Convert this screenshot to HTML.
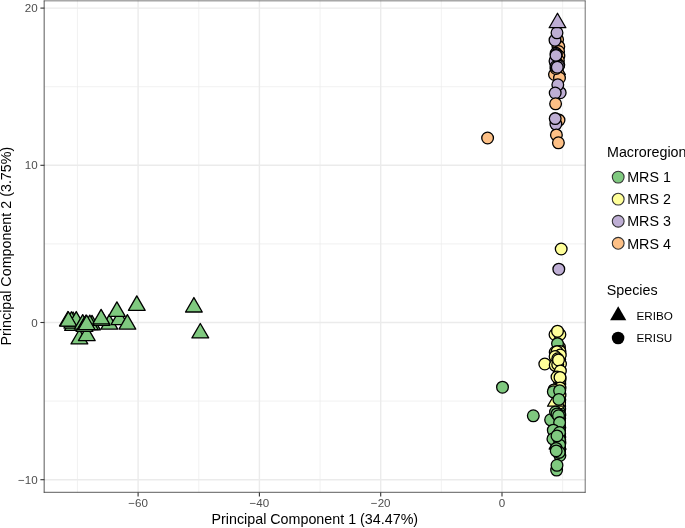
<!DOCTYPE html>
<html><head><meta charset="utf-8"><title>PCA</title>
<style>html,body{margin:0;padding:0;background:#fff}body{width:685px;height:528px;overflow:hidden}svg{display:block;will-change:transform}text{font-family:"Liberation Sans",sans-serif}</style>
</head><body>
<svg width="685" height="528" viewBox="0 0 685 528">
<rect x="0" y="0" width="685" height="528" fill="#fff"/>
<g stroke="#EBEBEB" stroke-width="0.7" fill="none">
<path d="M77.45 0.4V492.4"/>
<path d="M198.75 0.4V492.4"/>
<path d="M320.05 0.4V492.4"/>
<path d="M441.35 0.4V492.4"/>
<path d="M562.65 0.4V492.4"/>
<path d="M44.4 401.10H585.5"/>
<path d="M44.4 243.90H585.5"/>
<path d="M44.4 86.70H585.5"/>
</g>
<g stroke="#EBEBEB" stroke-width="1.4" fill="none">
<path d="M138.10 0.4V492.4"/>
<path d="M259.40 0.4V492.4"/>
<path d="M380.70 0.4V492.4"/>
<path d="M502.00 0.4V492.4"/>
<path d="M44.4 479.70H585.5"/>
<path d="M44.4 322.50H585.5"/>
<path d="M44.4 165.30H585.5"/>
<path d="M44.4 8.10H585.5"/>
</g>
<g stroke="#000" stroke-width="1.3" stroke-linejoin="round">
<path d="M73.00 315.85L81.36 330.32L64.64 330.32Z" fill="#7FC97F"/>
<path d="M72.30 313.65L80.66 328.12L63.94 328.12Z" fill="#7FC97F"/>
<path d="M73.10 311.95L81.46 326.43L64.74 326.43Z" fill="#7FC97F"/>
<path d="M71.40 311.75L79.76 326.22L63.04 326.22Z" fill="#7FC97F"/>
<path d="M76.25 311.55L84.61 326.02L67.89 326.02Z" fill="#7FC97F"/>
<path d="M67.90 311.45L76.26 325.93L59.54 325.93Z" fill="#7FC97F"/>
<path d="M68.40 311.75L76.76 326.22L60.04 326.22Z" fill="#7FC97F"/>
<path d="M79.40 329.45L87.76 343.93L71.04 343.93Z" fill="#7FC97F"/>
<path d="M86.80 326.15L95.16 340.62L78.44 340.62Z" fill="#7FC97F"/>
<path d="M92.00 315.35L100.36 329.82L83.64 329.82Z" fill="#7FC97F"/>
<path d="M89.80 315.15L98.16 329.62L81.44 329.62Z" fill="#7FC97F"/>
<path d="M82.70 314.65L91.06 329.12L74.34 329.12Z" fill="#7FC97F"/>
<path d="M84.50 316.95L92.86 331.43L76.14 331.43Z" fill="#7FC97F"/>
<path d="M86.00 314.95L94.36 329.43L77.64 329.43Z" fill="#7FC97F"/>
<path d="M86.70 315.25L95.06 329.72L78.34 329.72Z" fill="#7FC97F"/>
<path d="M109.30 314.65L117.66 329.12L100.94 329.12Z" fill="#7FC97F"/>
<path d="M101.50 310.85L109.86 325.32L93.14 325.32Z" fill="#7FC97F"/>
<path d="M119.40 310.15L127.76 324.62L111.04 324.62Z" fill="#7FC97F"/>
<path d="M101.10 309.35L109.46 323.82L92.74 323.82Z" fill="#7FC97F"/>
<path d="M116.90 301.85L125.26 316.32L108.54 316.32Z" fill="#7FC97F"/>
<path d="M127.40 314.65L135.76 329.12L119.04 329.12Z" fill="#7FC97F"/>
<path d="M136.80 295.85L145.16 310.32L128.44 310.32Z" fill="#7FC97F"/>
<path d="M193.90 297.55L202.26 312.02L185.54 312.02Z" fill="#7FC97F"/>
<path d="M200.30 323.45L208.66 337.93L191.94 337.93Z" fill="#7FC97F"/>
<circle cx="487.6" cy="138.0" r="5.85" fill="#FDC086"/>
<circle cx="557.6" cy="39.6" r="5.85" fill="#FDC086"/>
<circle cx="557.9" cy="46.2" r="5.85" fill="#FDC086"/>
<circle cx="558.8" cy="46.6" r="5.85" fill="#FDC086"/>
<circle cx="558.6" cy="51.5" r="5.85" fill="#FDC086"/>
<circle cx="558.9" cy="56.0" r="5.85" fill="#FDC086"/>
<circle cx="558.4" cy="60.5" r="5.85" fill="#FDC086"/>
<circle cx="558.8" cy="64.8" r="5.85" fill="#FDC086"/>
<circle cx="555.6" cy="63.0" r="5.85" fill="#BEAED4"/>
<circle cx="555.0" cy="60.9" r="5.85" fill="#BEAED4"/>
<circle cx="556.1" cy="53.3" r="5.85" fill="#BEAED4"/>
<circle cx="556.3" cy="54.6" r="5.85" fill="#BEAED4"/>
<circle cx="555.0" cy="40.2" r="5.85" fill="#BEAED4"/>
<circle cx="557.0" cy="32.8" r="5.85" fill="#BEAED4"/>
<path d="M557.50 13.25L565.86 27.72L549.14 27.72Z" fill="#BEAED4"/>
<path d="M557.00 60.15L565.36 74.62L548.64 74.62Z" fill="#FDC086"/>
<circle cx="554.5" cy="74.5" r="5.85" fill="#FDC086"/>
<circle cx="559.5" cy="78.0" r="5.85" fill="#FDC086"/>
<circle cx="556.0" cy="68.5" r="5.85" fill="#FDC086"/>
<circle cx="558.5" cy="66.0" r="5.85" fill="#BEAED4"/>
<circle cx="556.0" cy="66.5" r="5.85" fill="#BEAED4"/>
<circle cx="556.0" cy="55.4" r="5.85" fill="#BEAED4"/>
<circle cx="557.3" cy="67.2" r="5.85" fill="#BEAED4"/>
<circle cx="560.2" cy="92.7" r="5.85" fill="#BEAED4"/>
<circle cx="557.8" cy="84.8" r="5.85" fill="#BEAED4"/>
<circle cx="555.2" cy="93.0" r="5.85" fill="#BEAED4"/>
<circle cx="555.6" cy="103.8" r="5.85" fill="#FDC086"/>
<circle cx="559.0" cy="120.1" r="5.85" fill="#FDC086"/>
<circle cx="555.9" cy="124.1" r="5.85" fill="#BEAED4"/>
<circle cx="555.2" cy="118.6" r="5.85" fill="#BEAED4"/>
<circle cx="556.4" cy="134.9" r="5.85" fill="#FDC086"/>
<circle cx="558.4" cy="142.8" r="5.85" fill="#FDC086"/>
<circle cx="561.2" cy="249.0" r="5.85" fill="#FFFF99"/>
<circle cx="558.8" cy="269.2" r="5.85" fill="#BEAED4"/>
<circle cx="559.4" cy="347.0" r="5.85" fill="#FFFF99"/>
<circle cx="559.6" cy="350.1" r="5.85" fill="#FFFF99"/>
<circle cx="559.5" cy="353.2" r="5.85" fill="#FFFF99"/>
<circle cx="559.7" cy="356.3" r="5.85" fill="#FFFF99"/>
<circle cx="559.7" cy="359.4" r="5.85" fill="#FFFF99"/>
<circle cx="559.3" cy="362.5" r="5.85" fill="#FFFF99"/>
<circle cx="559.3" cy="365.6" r="5.85" fill="#FFFF99"/>
<circle cx="559.8" cy="368.7" r="5.85" fill="#FFFF99"/>
<circle cx="559.5" cy="371.8" r="5.85" fill="#FFFF99"/>
<circle cx="559.4" cy="374.9" r="5.85" fill="#FFFF99"/>
<circle cx="559.9" cy="378.0" r="5.85" fill="#FFFF99"/>
<circle cx="559.6" cy="381.1" r="5.85" fill="#FFFF99"/>
<circle cx="559.8" cy="384.2" r="5.85" fill="#FFFF99"/>
<circle cx="559.6" cy="387.3" r="5.85" fill="#7FC97F"/>
<circle cx="559.7" cy="390.4" r="5.85" fill="#7FC97F"/>
<circle cx="559.4" cy="393.5" r="5.85" fill="#7FC97F"/>
<circle cx="559.7" cy="396.6" r="5.85" fill="#7FC97F"/>
<circle cx="559.8" cy="399.7" r="5.85" fill="#7FC97F"/>
<circle cx="559.6" cy="402.8" r="5.85" fill="#7FC97F"/>
<circle cx="559.7" cy="405.9" r="5.85" fill="#7FC97F"/>
<circle cx="559.7" cy="409.0" r="5.85" fill="#7FC97F"/>
<circle cx="559.3" cy="412.1" r="5.85" fill="#7FC97F"/>
<circle cx="559.8" cy="415.2" r="5.85" fill="#7FC97F"/>
<circle cx="559.7" cy="418.3" r="5.85" fill="#7FC97F"/>
<circle cx="559.5" cy="421.4" r="5.85" fill="#7FC97F"/>
<circle cx="559.3" cy="424.5" r="5.85" fill="#7FC97F"/>
<circle cx="559.8" cy="427.6" r="5.85" fill="#7FC97F"/>
<circle cx="559.6" cy="430.7" r="5.85" fill="#7FC97F"/>
<circle cx="559.7" cy="433.8" r="5.85" fill="#7FC97F"/>
<circle cx="559.8" cy="436.9" r="5.85" fill="#7FC97F"/>
<circle cx="559.7" cy="440.0" r="5.85" fill="#7FC97F"/>
<circle cx="559.9" cy="443.1" r="5.85" fill="#7FC97F"/>
<circle cx="559.5" cy="446.2" r="5.85" fill="#7FC97F"/>
<circle cx="559.8" cy="449.3" r="5.85" fill="#7FC97F"/>
<circle cx="559.6" cy="452.4" r="5.85" fill="#7FC97F"/>
<circle cx="559.9" cy="455.5" r="5.85" fill="#7FC97F"/>
<circle cx="555.0" cy="334.5" r="5.85" fill="#FFFF99"/>
<circle cx="559.9" cy="334.5" r="5.85" fill="#FFFF99"/>
<circle cx="557.5" cy="343.6" r="5.85" fill="#7FC97F"/>
<circle cx="557.5" cy="331.2" r="5.85" fill="#FFFF99"/>
<circle cx="560.0" cy="351.5" r="5.85" fill="#FFFF99"/>
<circle cx="555.2" cy="352.3" r="5.85" fill="#FFFF99"/>
<circle cx="557.0" cy="351.6" r="5.85" fill="#FFFF99"/>
<circle cx="560.3" cy="355.0" r="5.85" fill="#FFFF99"/>
<circle cx="555.1" cy="356.5" r="5.85" fill="#FFFF99"/>
<circle cx="557.7" cy="358.8" r="5.85" fill="#FFFF99"/>
<circle cx="544.8" cy="364.0" r="5.85" fill="#FFFF99"/>
<circle cx="560.5" cy="364.0" r="5.85" fill="#FFFF99"/>
<circle cx="555.2" cy="365.3" r="5.85" fill="#FFFF99"/>
<circle cx="557.7" cy="364.5" r="5.85" fill="#FFFF99"/>
<circle cx="558.5" cy="360.0" r="5.85" fill="#FFFF99"/>
<circle cx="560.4" cy="371.0" r="5.85" fill="#FFFF99"/>
<circle cx="560.0" cy="379.7" r="5.85" fill="#FFFF99"/>
<circle cx="557.0" cy="377.0" r="5.85" fill="#FFFF99"/>
<circle cx="560.0" cy="377.4" r="5.85" fill="#FFFF99"/>
<circle cx="560.0" cy="388.0" r="5.85" fill="#FFFF99"/>
<circle cx="560.0" cy="395.0" r="5.85" fill="#FFFF99"/>
<circle cx="559.6" cy="403.0" r="5.85" fill="#FFFF99"/>
<circle cx="553.9" cy="389.9" r="5.85" fill="#FFFF99"/>
<path d="M555.90 391.75L564.26 406.22L547.54 406.22Z" fill="#FFFF99"/>
<circle cx="553.3" cy="391.8" r="5.85" fill="#7FC97F"/>
<circle cx="559.6" cy="390.7" r="5.85" fill="#7FC97F"/>
<circle cx="558.9" cy="399.4" r="5.85" fill="#7FC97F"/>
<circle cx="502.5" cy="387.2" r="5.85" fill="#7FC97F"/>
<circle cx="533.3" cy="415.8" r="5.85" fill="#7FC97F"/>
<circle cx="550.6" cy="419.8" r="5.85" fill="#7FC97F"/>
<circle cx="555.5" cy="412.0" r="5.85" fill="#7FC97F"/>
<circle cx="557.0" cy="413.9" r="5.85" fill="#7FC97F"/>
<circle cx="558.5" cy="415.8" r="5.85" fill="#7FC97F"/>
<circle cx="559.6" cy="422.6" r="5.85" fill="#7FC97F"/>
<circle cx="553.3" cy="430.2" r="5.85" fill="#7FC97F"/>
<circle cx="559.5" cy="432.5" r="5.85" fill="#7FC97F"/>
<path d="M557.50 434.65L565.86 449.12L549.14 449.12Z" fill="#7FC97F"/>
<circle cx="552.9" cy="438.9" r="5.85" fill="#7FC97F"/>
<circle cx="559.5" cy="440.0" r="5.85" fill="#7FC97F"/>
<circle cx="559.5" cy="445.0" r="5.85" fill="#7FC97F"/>
<circle cx="556.2" cy="448.4" r="5.85" fill="#7FC97F"/>
<circle cx="557.0" cy="435.9" r="5.85" fill="#7FC97F"/>
<circle cx="559.2" cy="452.4" r="5.85" fill="#7FC97F"/>
<circle cx="556.2" cy="450.9" r="5.85" fill="#7FC97F"/>
<circle cx="556.6" cy="470.1" r="5.85" fill="#7FC97F"/>
<circle cx="557.0" cy="465.3" r="5.85" fill="#7FC97F"/>
</g>
<g stroke="#333" fill="none"><path stroke-width="0.82" d="M44.17 0.55V492.7"/><path stroke-width="0.7" d="M585.2 0.55V492.7"/><path stroke-width="0.65" d="M43.77 0.85H585.5500000000001"/><path stroke-width="0.8" d="M43.77 492.3H585.5500000000001"/></g>
<g stroke="#333" stroke-width="1.1" fill="none">
<path d="M138.10 492.4v4"/>
<path d="M259.40 492.4v4"/>
<path d="M380.70 492.4v4"/>
<path d="M502.00 492.4v4"/>
<path d="M44.4 479.70h-4"/>
<path d="M44.4 322.50h-4"/>
<path d="M44.4 165.30h-4"/>
<path d="M44.4 8.10h-4"/>
</g>
<g font-size="11.6" fill="#4D4D4D">
<text x="138.10" y="507.2" text-anchor="middle">−60</text>
<text x="259.40" y="507.2" text-anchor="middle">−40</text>
<text x="380.70" y="507.2" text-anchor="middle">−20</text>
<text x="502.00" y="507.2" text-anchor="middle">0</text>
<text x="37.6" y="483.70" text-anchor="end">−10</text>
<text x="37.6" y="326.50" text-anchor="end">0</text>
<text x="37.6" y="169.30" text-anchor="end">10</text>
<text x="37.6" y="12.10" text-anchor="end">20</text>
</g>
<text x="314.8" y="523.6" font-size="14.3" text-anchor="middle" fill="#000">Principal Component 1 (34.47%)</text>
<text transform="translate(11.4 246.1) rotate(-90)" font-size="14.3" text-anchor="middle" fill="#000">Principal Component 2 (3.75%)</text>
<text x="607.0" y="157.2" font-size="14.3" fill="#000">Macroregion</text>
<circle cx="618.2" cy="177.1" r="5.9" fill="#7FC97F" stroke="#333" stroke-width="1.1"/>
<text x="627.2" y="182.29999999999998" font-size="14.3" fill="#000">MRS 1</text>
<circle cx="618.2" cy="199.17" r="5.9" fill="#FFFF99" stroke="#333" stroke-width="1.1"/>
<text x="627.2" y="204.36999999999998" font-size="14.3" fill="#000">MRS 2</text>
<circle cx="618.2" cy="221.24" r="5.9" fill="#BEAED4" stroke="#333" stroke-width="1.1"/>
<text x="627.2" y="226.44" font-size="14.3" fill="#000">MRS 3</text>
<circle cx="618.2" cy="243.31" r="5.9" fill="#FDC086" stroke="#333" stroke-width="1.1"/>
<text x="627.2" y="248.51" font-size="14.3" fill="#000">MRS 4</text>
<text x="606.7" y="295.2" font-size="14.3" fill="#000">Species</text>
<path d="M618.20 306.25L626.30 320.28L610.10 320.28Z" fill="#000"/>
<circle cx="618.1" cy="338.0" r="6.3" fill="#000"/>
<text x="636.5" y="319.9" font-size="11.7" fill="#000">ERIBO</text>
<text x="636.5" y="342.1" font-size="11.7" fill="#000">ERISU</text>
</svg>
</body></html>
